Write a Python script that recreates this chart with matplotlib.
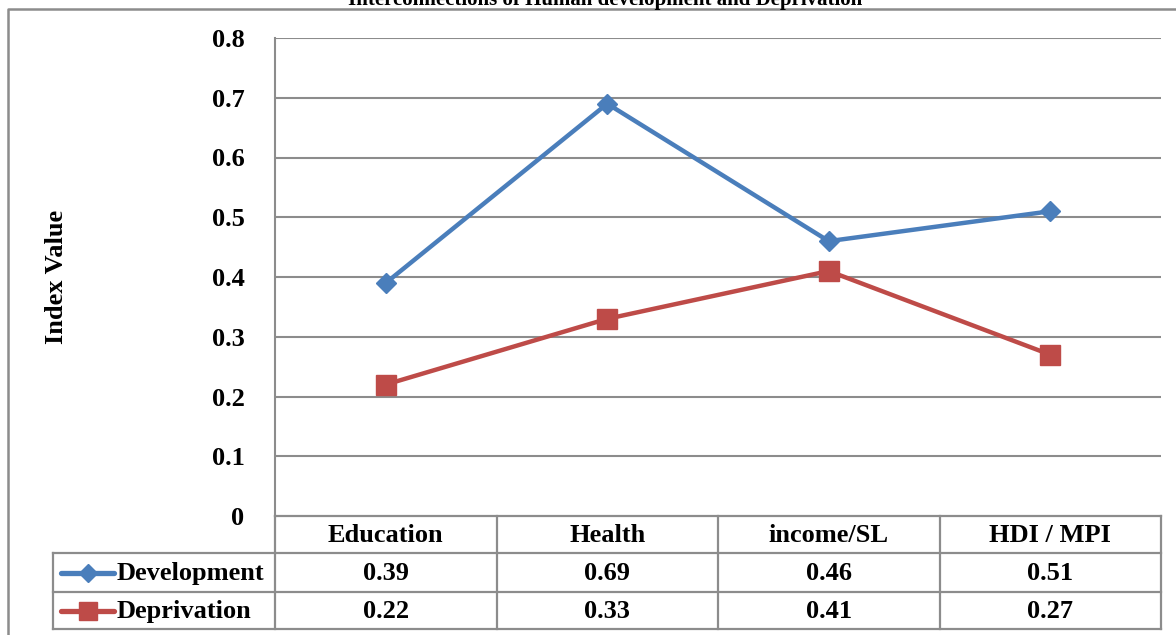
import matplotlib.pyplot as plt
from matplotlib.lines import Line2D

# data
categories = ['Education', 'Health', 'income/SL', 'HDI / MPI']
development = [0.39, 0.69, 0.46, 0.51]
deprivation = [0.22, 0.33, 0.41, 0.27]
series_names = ['Development', 'Deprivation']
yticks = [0, 0.1, 0.2, 0.3, 0.4, 0.5, 0.6, 0.7, 0.8]
ytick_labels = ['0', '0.1', '0.2', '0.3', '0.4', '0.5', '0.6', '0.7', '0.8']

W, H = 1176, 635
blue = '#4A7EBB'
red = '#BE4B48'
grid_c = '#8C8C8C'
plt.rcParams['font.family'] = ['Liberation Serif', 'DejaVu Serif']
plt.rcParams['font.weight'] = 'bold'

fig = plt.figure(figsize=(W / 100, H / 100), dpi=100)

# overlay in pixel coords for border and table
ov = fig.add_axes([0, 0, 1, 1])
ov.set_xlim(0, W)
ov.set_ylim(H, 0)
ov.axis('off')

# plot area (pixels)
px0, px1, py_top, py_bot = 275, 1161, 38, 516
ax = fig.add_axes([px0 / W, (H - py_bot) / H, (px1 - px0) / W, (py_bot - py_top) / H])
x = list(range(len(categories)))
ax.plot(x, development, color=blue, lw=3.2, marker='D', ms=10.5, zorder=3)
ax.plot(x, deprivation, color=red, lw=3.2, marker='s', ms=14.5, zorder=3)
ax.set_xlim(-0.5, len(categories) - 0.5)
ax.set_ylim(0, 0.8)
ax.set_yticks(yticks)
ax.set_yticklabels(ytick_labels, fontsize=19, fontweight='bold')
ax.set_xticks([])
ax.tick_params(axis='y', length=0, pad=22)
for y in yticks[1:]:
    ax.axhline(y, color=grid_c, lw=1.5, zorder=1)
for s in ['top', 'right', 'bottom']:
    ax.spines[s].set_visible(False)
ax.spines['left'].set_color(grid_c)
ax.spines['left'].set_linewidth(1.5)
ax.patch.set_alpha(0)
ax.set_ylabel('Index Value', fontsize=19, fontweight='bold', labelpad=0)
ax.yaxis.set_label_coords(-(px0 - 68) / (px1 - px0), 0.5)

# outer border
ov.plot([8, 8, W + 5], [H + 5, 9, 9], color=grid_c, lw=1.8)

# title (mostly cropped at top, as in the source image)
fig.text(605 / W, (H - 5) / H, 'Interconnections of Human development and Deprivation',
         ha='center', va='baseline', fontsize=15, fontweight='bold')

# data table
col_w = (px1 - px0) / len(categories)
col_edges = [px0 + i * col_w for i in range(len(categories) + 1)]
row_y = [516, 553, 592, 629]
leg_x0 = 53
lc = grid_c
lw = 1.6
ov.plot([px0, px1], [row_y[0], row_y[0]], color=lc, lw=lw)
for yy in row_y[1:]:
    ov.plot([leg_x0, px1], [yy, yy], color=lc, lw=lw)
for xx in col_edges:
    ov.plot([xx, xx], [row_y[0], row_y[-1]], color=lc, lw=lw)
ov.plot([leg_x0, leg_x0], [row_y[1], row_y[-1]], color=lc, lw=lw)

for i, c in enumerate(categories):
    cx = col_edges[i] + col_w / 2
    ov.text(cx, (row_y[0] + row_y[1]) / 2 + 1, c, ha='center', va='center',
            fontsize=19, fontweight='bold')
    ov.text(cx, (row_y[1] + row_y[2]) / 2 + 1, f'{development[i]:.2f}', ha='center',
            va='center', fontsize=19, fontweight='bold')
    ov.text(cx, (row_y[2] + row_y[3]) / 2 + 1, f'{deprivation[i]:.2f}', ha='center',
            va='center', fontsize=19, fontweight='bold')

# legend keys in the table
keys = [(blue, 'D', 9), (red, 's', 13)]
for r, (name, (col, mk, ms)) in enumerate(zip(series_names, keys)):
    yc = (row_y[r + 1] + row_y[r + 2]) / 2
    ov.add_line(Line2D([61, 114], [yc, yc], color=col, lw=3.8, solid_capstyle='round'))
    ov.add_line(Line2D([88], [yc], color=col, marker=mk, ms=ms, lw=0))
    ov.text(117, yc + 1, name, ha='left', va='center', fontsize=19, fontweight='bold')

fig.savefig('out.png', dpi=100)
